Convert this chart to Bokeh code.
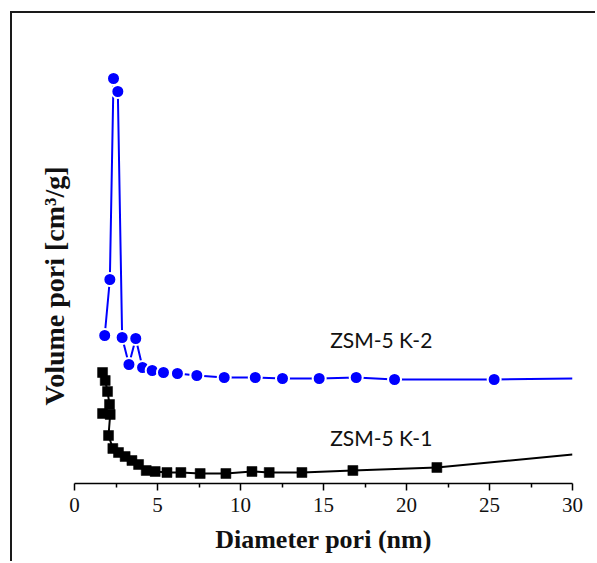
from bokeh.plotting import figure
from bokeh.models import Label, FixedTicker, Range1d, Title
from bokeh.embed import file_html
from bokeh.resources import INLINE

# ZSM-5 K-2 (blue circles)
k2_diameter = [1.82, 2.13, 2.35, 2.61, 2.87, 3.28, 3.69, 4.10, 4.68, 5.36, 6.20, 7.37,
               9.02, 10.89, 12.53, 14.74, 16.97, 19.28, 25.28]
k2_volume = [0.148, 0.204, 0.405, 0.392, 0.146, 0.119, 0.145, 0.116, 0.113, 0.111, 0.110, 0.108,
             0.106, 0.106, 0.105, 0.105, 0.106, 0.104, 0.104]
k2_tail_diameter = [25.28, 30.0]
k2_tail_volume = [0.104, 0.105]

# ZSM-5 K-1 (black squares)
k1_diameter = [1.69, 1.85, 1.99, 2.11, 1.69, 2.15, 2.05, 2.31, 2.65, 3.05, 3.46, 3.86,
               4.32, 4.86, 5.57, 6.41, 7.57, 9.12, 10.69, 11.73, 13.70, 16.77, 21.83]
k1_volume = [0.111, 0.103, 0.092, 0.079, 0.070, 0.069, 0.048, 0.035, 0.031, 0.027, 0.023, 0.019,
             0.013, 0.012, 0.011, 0.011, 0.010, 0.010, 0.012, 0.011, 0.011, 0.013, 0.016]
k1_tail_diameter = [21.83, 30.0]
k1_tail_volume = [0.016, 0.029]

x_ticks = [0, 5, 10, 15, 20, 25, 30]
series_labels = ["ZSM-5 K-2", "ZSM-5 K-1"]
label_pos_x = [15.4, 15.4]
label_pos_y = [0.144, 0.046]

p = figure(width=585, height=550, output_backend="svg", toolbar_location=None,
           x_range=Range1d(0, 30), y_range=Range1d(0, 0.46),
           y_axis_location=None,
           min_border_left=62, min_border_right=25, min_border_top=10, min_border_bottom=80)
p.margin = (11, 0, 0, 10)
p.styles = {"border-left": "2px solid #1a1a1a", "border-top": "2px solid #1a1a1a"}
p.outline_line_color = None
p.xgrid.visible = False
p.ygrid.visible = False
p.background_fill_color = "white"
p.border_fill_color = "white"

ax = p.xaxis[0]
ax.ticker = FixedTicker(ticks=x_ticks, minor_ticks=[2.5 + 5 * i for i in range(6)])
ax.axis_line_color = "black"
ax.axis_line_width = 1.5
ax.major_tick_line_width = 1.5
ax.minor_tick_line_width = 1.5
ax.major_tick_in = 0
ax.major_tick_out = 7
ax.minor_tick_in = 0
ax.minor_tick_out = 4
ax.major_label_text_font = "Liberation Serif"
ax.major_label_text_font_size = "21px"
ax.major_label_text_color = "#111111"
ax.major_label_standoff = 7
ax.axis_label = "Diameter pori (nm)"
ax.axis_label_text_font = "Liberation Serif"
ax.axis_label_text_font_style = "bold"
ax.axis_label_text_font_size = "26px"
ax.axis_label_text_color = "#111111"
ax.axis_label_standoff = 10

# lines
p.line(k2_diameter, k2_volume, line_color="#0000ff", line_width=2)
p.line(k2_tail_diameter, k2_tail_volume, line_color="#0000ff", line_width=2)
p.line(k1_diameter, k1_volume, line_color="black", line_width=2)
p.line(k1_tail_diameter, k1_tail_volume, line_color="black", line_width=2)

# markers
p.scatter(k1_diameter, k1_volume, marker="square", size=10, fill_color="black", line_color="black", line_width=0.5)
p.scatter(k2_diameter, k2_volume, marker="circle", size=13, fill_color="#0000ff", line_color="white", line_width=2)

for t, lx, ly in zip(series_labels, label_pos_x, label_pos_y):
    p.add_layout(Label(x=lx, y=ly, text=t, text_font="Lato", text_font_size="21px",
                       text_color="#111111", text_baseline="alphabetic", text_align="left"))

p.add_layout(Title(text="Volume pori [cm³/g]", align="left", offset=78,
                   text_font="Liberation Serif", text_font_style="bold",
                   text_font_size="28px", text_color="#111111"), "left")

open("out.html", "w").write(file_html(p, INLINE))
